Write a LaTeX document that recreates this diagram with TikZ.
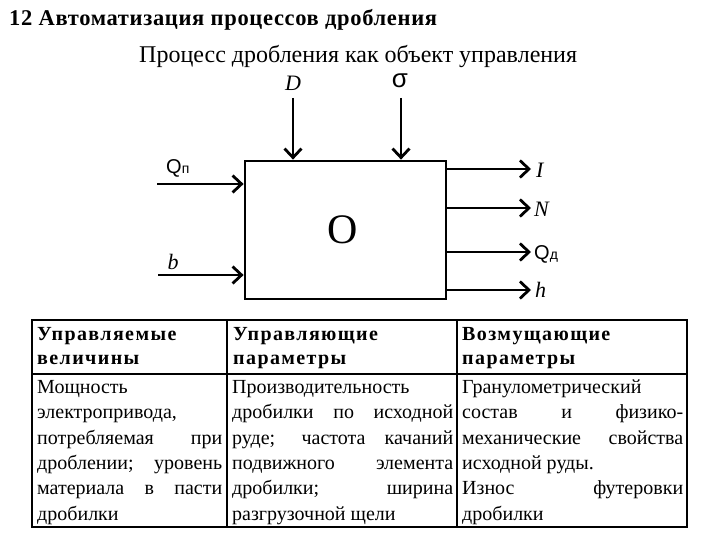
\documentclass[tikz,border=0pt]{standalone}
\usepackage{fontspec}
\setmainfont{Liberation Serif}
\newfontfamily\arialf{Liberation Sans}
\usetikzlibrary{arrows.meta}
\tikzset{
  thick line/.style={line width=2.8pt},
  sig/.style={thick line,-{Straight Barb[length=9pt,width=17pt,line width=2.8pt]}},
  lbl/.style={inner sep=0pt,font=\fontsize{22}{24}\selectfont\itshape},
  tline/.style={line width=1.6pt},
  cell/.style={anchor=north west,inner sep=0pt,align=justify},
}
\newcommand{\bodyfont}{\fontsize{20}{25.4}\selectfont}
\newcommand{\headfont}{\fontsize{20}{24.5}\selectfont\bfseries\addfontfeatures{LetterSpace=7}}
\newcommand{\topstrut}{\rule{0pt}{15pt}}
\begin{document}
\begin{tikzpicture}[x=1pt,y=-1pt]
\useasboundingbox (0,0) rectangle (720,540);
% titles
\node[anchor=base west,inner sep=0pt,font=\fontsize{22.5}{24}\selectfont\bfseries\addfontfeatures{LetterSpace=3}] (title) at (9,26) {12 Автоматизация процессов дробления};
\node[anchor=base west,inner sep=0pt,font=\fontsize{24}{26}\selectfont] (sub) at (139,62.5) {Процесс дробления как объект управления};
% object
\node[draw,thick line,minimum width=201pt,minimum height=138pt,inner sep=0pt] (obj) at (345.5,230) {};
\node[inner sep=0pt,font=\fontsize{42}{44}\selectfont] (O) at (343,230) {O};
% inputs top
\coordinate (dS) at (293,98);
\coordinate (sS) at (401,98);
\draw[sig] (dS) -- (dS |- obj.north);
\draw[sig] (sS) -- (sS |- obj.north);
\node[lbl] (D) at (293,83) {D};
\node[inner sep=0pt,font=\arialf\fontsize{26}{28}\selectfont] (sigma) at (400,81) {σ};
% inputs left
\coordinate (qS) at (157,184);
\coordinate (bS) at (158,275);
\draw[sig] (qS) -- (qS -| obj.west);
\draw[sig] (bS) -- (bS -| obj.west);
\node[anchor=base west,inner sep=0pt,font=\arialf\fontsize{20}{22}\selectfont] (Qp) at (166,174) {Q{\fontsize{14}{16}\selectfont п}};
\node[lbl] (b) at (173,262) {b};
% outputs
\coordinate (iE) at (531,169);
\coordinate (nE) at (531,208);
\coordinate (qE) at (531,252);
\coordinate (hE) at (531,290);
\draw[sig] (iE -| obj.east) -- (iE);
\draw[sig] (nE -| obj.east) -- (nE);
\draw[sig] (qE -| obj.east) -- (qE);
\draw[sig] (hE -| obj.east) -- (hE);
\node[lbl,anchor=west] (I) at (536,170) {I};
\node[lbl,anchor=west] (N) at (534,209) {N};
\node[anchor=base west,inner sep=0pt,font=\arialf\fontsize{20}{22}\selectfont] (Qd) at (534,259) {Q{\fontsize{14}{16}\selectfont д}};
\node[lbl,anchor=west] (h) at (535,290) {h};
% table
\draw[tline] (32,320) rectangle (687,527);
\draw[tline] (32,374) -- (687,374);
\draw[tline] (227,320) -- (227,527);
\draw[tline] (457,320) -- (457,527);
% headers
\node[cell,text width=185pt,align=left,font=\headfont] (h1) at (37,325) {\topstrut Управляемые\\величины};
\node[cell,text width=220pt,align=left,font=\headfont] (h2) at (233,325) {\topstrut Управляющие\\параметры};
\node[cell,text width=220pt,align=left,font=\headfont] (h3) at (462,325) {\topstrut Возмущающие\\параметры};
% body
\node[cell,text width=185pt,font=\bodyfont] (c1) at (37,378) {\topstrut Мощность\newline электропривода,\newline потребляемая при\linebreak дроблении; уровень\linebreak материала в пасти\linebreak дробилки};
\node[cell,text width=221pt,font=\bodyfont] (c2) at (232,378) {\topstrut Производительность\newline дробилки по исходной\linebreak руде; частота качаний\linebreak подвижного элемента\linebreak дробилки; ширина\linebreak разгрузочной щели};
\node[cell,text width=221pt,font=\bodyfont] (c3) at (462,378) {\topstrut Гранулометрический\newline состав и физико-\linebreak механические свойства\linebreak исходной руды.\newline Износ футеровки\linebreak дробилки};
\end{tikzpicture}
\end{document}
